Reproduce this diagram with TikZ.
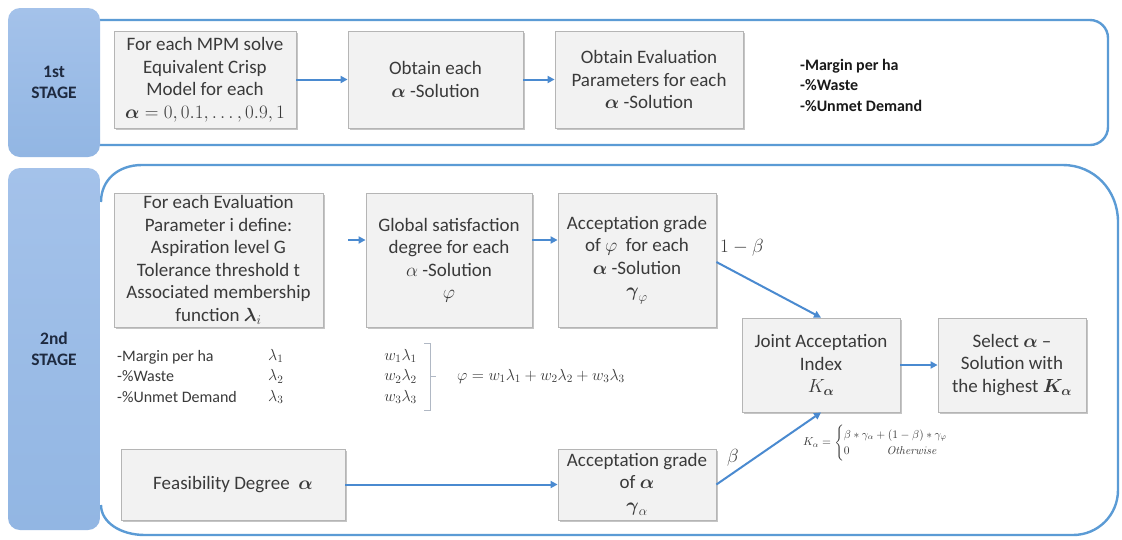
\RequirePackage{fix-cm}
\documentclass[tikz,border=0pt]{standalone}
\usepackage{amsmath}
\usepackage[no-math]{fontspec}
\setmainfont{Carlito}
\usetikzlibrary{arrows.meta,shadows}
\definecolor{boxfill}{HTML}{F2F2F2}
\definecolor{boxline}{HTML}{B5B5B5}
\definecolor{arrowblue}{HTML}{4A8AD0}
\definecolor{panelblue}{HTML}{5B9BD5}
\definecolor{stagetop}{HTML}{A4C2EA}
\definecolor{stagebot}{HTML}{92B6E3}
\definecolor{stagetxt}{HTML}{1E2A40}
\definecolor{txt}{HTML}{3A3A3A}
\definecolor{brk}{HTML}{B0B8C4}
\begin{document}
\begin{tikzpicture}[x=1pt,y=-1pt,
  procbox/.style={draw=boxline, line width=0.8pt, fill=boxfill,
    drop shadow={shadow xshift=2.4pt,shadow yshift=-2.4pt,fill=black!50,opacity=0.45},
    align=center, text=txt, font=\fontsize{19}{22.5}\selectfont, inner sep=1pt},
  stagebox/.style={draw=none, rounded corners=12pt, top color=stagetop, bottom color=stagebot,
    align=center, text=stagetxt, font=\bfseries\fontsize{17.5}{21}\selectfont},
  panel/.style={draw=panelblue, line width=2.4pt},
  arr/.style={draw=arrowblue, line width=2pt, -{Triangle[length=7pt,width=7pt]}},
  listtxt/.style={anchor=west, align=left, text=txt, font=\fontsize{16}{20.5}\selectfont, inner sep=0pt},
  toplist/.style={anchor=west, align=left, text=black!90, font=\bfseries\fontsize{16}{20.5}\selectfont, inner sep=0pt},
  lbl/.style={text=txt, font=\fontsize{19}{20}\selectfont, inner sep=0pt}
]
\useasboundingbox (0,0) rectangle (1122,539);
\fill[white] (0,0) rectangle (1122,539);

% panels
\draw[panel, rounded corners=18pt] (100,20) -- (1108,20) -- (1108,145) -- (100,145);
\draw[panel] (101,202) .. controls (101,180) and (118,165) .. (142,165)
  -- (1063,165) .. controls (1094,165) and (1118,190) .. (1118,222)
  -- (1118,490) .. controls (1118,515) and (1098,535) .. (1073,535)
  -- (145,535) .. controls (120,535) and (101,522) .. (101,505);

% stage labels
\node[stagebox, minimum width=92pt, minimum height=149pt] (s1) at (54,82.5) {1st\\STAGE};
\node[stagebox, minimum width=92pt, minimum height=362pt] (s2) at (54,349) {2nd\\STAGE};

% first stage
\node[procbox, minimum width=182pt, minimum height=97pt] (b1) at (205,79.5)
  {For each MPM solve\\Equivalent Crisp\\Model for each\\$\boldsymbol{\alpha} = 0, 0.1, \dots, 0.9,1$};
\node[procbox, minimum width=175pt, minimum height=97pt] (b2) at (435.5,79.5)
  {Obtain each\\$\boldsymbol{\alpha}$ -Solution};
\node[procbox, minimum width=188pt, minimum height=97pt] (b3) at (649,79.5)
  {Obtain Evaluation\\Parameters for each\\$\boldsymbol{\alpha}$ -Solution};
\node[toplist] (tl) at (800,85) {-Margin per ha\\-\%Waste\\-\%Unmet Demand};
\draw[arr] (b1) -- (b2);
\draw[arr] (b2) -- (b3);

% second stage
\node[procbox, minimum width=209pt, minimum height=134pt] (A) at (218.5,260)
  {For each Evaluation\\Parameter i define:\\Aspiration level G\\Tolerance threshold t\\Associated membership\\function $\boldsymbol{\lambda}_{i}$};
\node[procbox, minimum width=166pt, minimum height=134pt] (B) at (449,260)
  {Global satisfaction\\degree for each\\$\alpha$ -Solution\\$\varphi$};
\node[procbox, minimum width=158pt, minimum height=134pt] (C) at (637,260)
  {Acceptation grade\\of $\varphi$\ \ for each\\$\boldsymbol{\alpha}$ -Solution\\$\boldsymbol{\gamma}_{\varphi}$};
\node[procbox, minimum width=158pt, minimum height=94pt] (D) at (821,365)
  {Joint Acceptation\\Index\\$K_{\boldsymbol{\alpha}}$};
\node[procbox, minimum width=148pt, minimum height=94pt] (E) at (1012,365)
  {Select $\boldsymbol{\alpha}$ --\\Solution with\\the highest $\boldsymbol{K_{\alpha}}$};
\node[procbox, minimum width=224pt, minimum height=71pt] (F) at (233,484.5)
  {Feasibility Degree\ \ $\boldsymbol{\alpha}$};
\node[procbox, minimum width=158pt, minimum height=71pt] (G) at (637,484.5)
  {Acceptation grade\\of $\boldsymbol{\alpha}$\\$\boldsymbol{\gamma}_{\alpha}$};

\draw[arr] ([xshift=25pt,yshift=20pt]A.east) -- ([yshift=20pt]B.west);
\draw[arr] ([yshift=20pt]B.east) -- ([yshift=20pt]C.west);
\draw[arr] ([yshift=-2pt]C.east) -- (D.north);
\draw[arr] (D) -- (E);
\draw[arr] (F) -- (G);
\draw[arr] (G.east) -- (D.south);

\node[lbl, anchor=west] (omb) at (720,248) {$1-\beta$};
\node[lbl, anchor=west] (bet) at (727,458) {$\beta$};

% evaluation list
\node[listtxt] (l1) at (117,376.5) {-Margin per ha\\-\%Waste\\-\%Unmet\ Demand};
\node[listtxt] (l2) at (268,376.5) {$\lambda_1$\\$\lambda_2$\\$\lambda_3$};
\node[listtxt, anchor=east, align=right] (l3) at (417,376.5) {$w_1\lambda_1$\\$w_2\lambda_2$\\$w_3\lambda_3$};
\draw[brk, line width=0.9pt] (424,343) -- (430,343) -- (430,410) -- (424,410);
\draw[brk, line width=0.9pt] (430,376) -- (436,376);
\node[listtxt] (phi) at (457,376) {$\varphi = w_1\lambda_1 + w_2\lambda_2 + w_3\lambda_3$};

\node[anchor=west, text=txt, inner sep=0pt, font=\fontsize{11.5}{13.5}\selectfont] (kf) at (803,443)
  {$K_{\alpha} = \begin{cases}\beta\ast\gamma_{\alpha} + (1-\beta)\ast\gamma_{\varphi}\\ 0\hspace{3.2em}\mathit{Otherwise}\end{cases}$};
\end{tikzpicture}
\end{document}
